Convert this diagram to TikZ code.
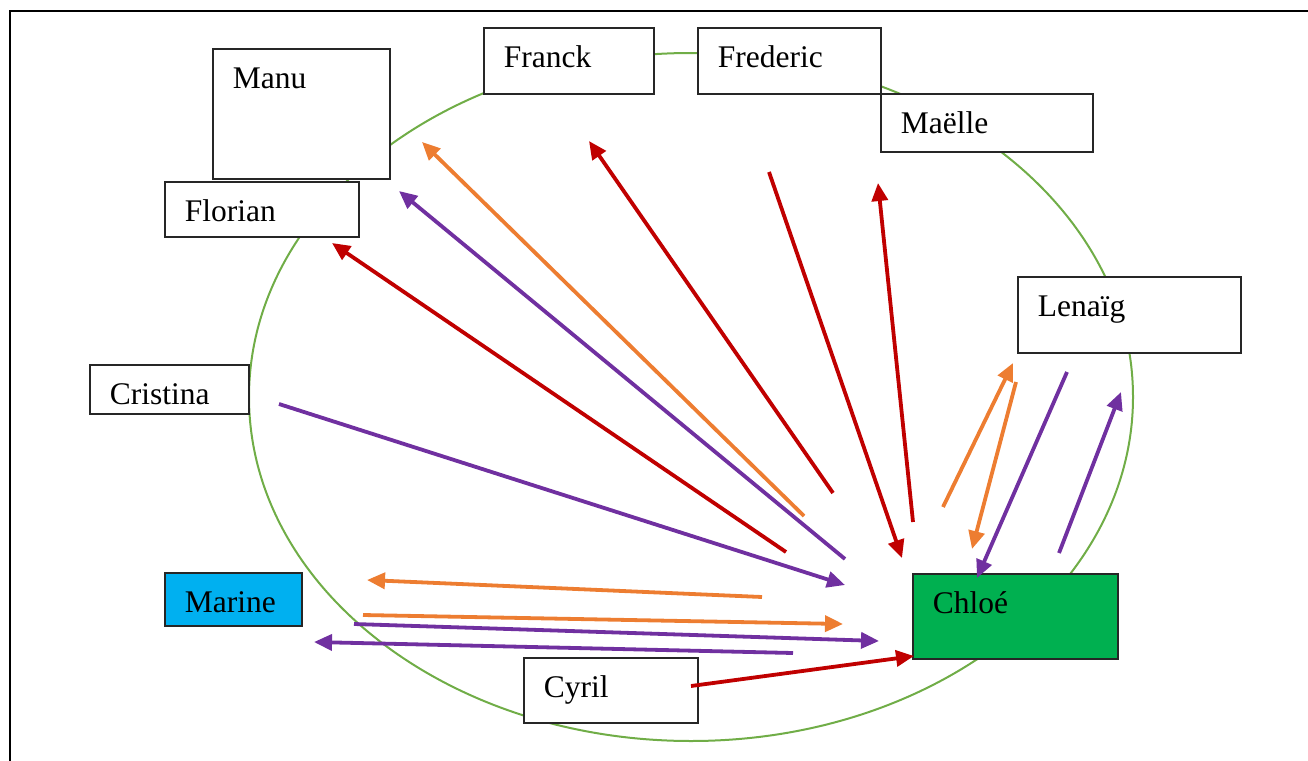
\documentclass[tikz,border=0pt]{standalone}
\usepackage{fontspec}
\setmainfont{Liberation Serif}
\usetikzlibrary{arrows.meta}
\definecolor{cred}{HTML}{C00000}
\definecolor{corange}{HTML}{ED7D31}
\definecolor{cpurple}{HTML}{7030A0}
\definecolor{cellipse}{HTML}{70AD47}
\definecolor{cblue}{HTML}{00B0F0}
\definecolor{cgreen}{HTML}{00B050}
\tikzset{
  pbox/.style={draw=black!85, line width=1.6pt, fill=white, anchor=north west,
    inner xsep=20pt, inner ysep=0pt, align=left, text height=40pt,
    font=\fontsize{31.5}{36}\selectfont},
  parrow/.style={line width=3.8pt, -{Triangle[length=18pt, width=16pt]}},
}
\begin{document}
\begin{tikzpicture}[x=1pt, y=-1pt]
\useasboundingbox (0,0) rectangle (1308,760);
% frame
\draw[line width=2.8pt] (10,762) -- (10,11) -- (1310,11);
% ellipse
\draw[cellipse, line width=2pt] (691,397) ellipse [x radius=442, y radius=344];
% boxes
\node[pbox, text width=137pt, text depth=90pt] (manu) at (212,48) {Manu};
\node[pbox, text width=154pt, text depth=15pt] (florian) at (164,181) {Florian};
\node[pbox, text width=130pt, text depth=26pt] (franck) at (483,27) {Franck};
\node[pbox, text width=143pt, text depth=26pt] (frederic) at (697,27) {Frederic};
\node[pbox, text width=172pt, text depth=18pt] (maelle) at (880,93) {Maëlle};
\node[pbox, text width=183pt, text depth=36pt] (lenaig) at (1017,276) {Lenaïg};
\node[pbox, text width=119pt, text depth=9pt] (cristina) at (89,364) {Cristina};
\node[pbox, fill=cblue, text width=97pt, text depth=13pt] (marine) at (164,572) {Marine};
\node[pbox, fill=cgreen, text width=165pt, text depth=45pt] (chloe) at (912,573) {Chloé};
\node[pbox, text width=134pt, text depth=25pt] (cyril) at (523,657) {Cyril};
% arrow end points
\coordinate (a1s) at (279,404);  \coordinate (a1e) at (845,585);
\coordinate (a2s) at (786,552);  \coordinate (a2e) at (332,243);
\coordinate (a3s) at (845,559);  \coordinate (a3e) at (399,191);
\coordinate (a4s) at (804,516);  \coordinate (a4e) at (422,142);
\coordinate (a5s) at (833,493);  \coordinate (a5e) at (589,141);
\coordinate (a6s) at (769,172);  \coordinate (a6e) at (902,558);
\coordinate (a7s) at (913,522);  \coordinate (a7e) at (878,183);
\coordinate (a8s) at (943,507);  \coordinate (a8e) at (1013,363);
\coordinate (a9s) at (1016,382); \coordinate (a9e) at (972,549);
\coordinate (a10s) at (1067,372); \coordinate (a10e) at (977,578);
\coordinate (a11s) at (1059,553); \coordinate (a11e) at (1121,392);
\coordinate (a12s) at (762,597); \coordinate (a12e) at (367,580);
\coordinate (a13s) at (363,615); \coordinate (a13e) at (843,624);
\coordinate (a14s) at (354,624); \coordinate (a14e) at (879,641);
\coordinate (a15s) at (793,653); \coordinate (a15e) at (314,642);
\coordinate (a16s) at (691,686); \coordinate (a16e) at (914,656);
% arrows
\draw[parrow, cpurple] (a1s) -- (a1e);
\draw[parrow, cred] (a2s) -- (a2e);
\draw[parrow, cpurple] (a3s) -- (a3e);
\draw[parrow, corange] (a4s) -- (a4e);
\draw[parrow, cred] (a5s) -- (a5e);
\draw[parrow, cred] (a6s) -- (a6e);
\draw[parrow, cred] (a7s) -- (a7e);
\draw[parrow, corange] (a8s) -- (a8e);
\draw[parrow, corange] (a9s) -- (a9e);
\draw[parrow, cpurple] (a10s) -- (a10e);
\draw[parrow, cpurple] (a11s) -- (a11e);
\draw[parrow, corange] (a12s) -- (a12e);
\draw[parrow, corange] (a13s) -- (a13e);
\draw[parrow, cpurple] (a14s) -- (a14e);
\draw[parrow, cpurple] (a15s) -- (a15e);
\draw[parrow, cred] (a16s) -- (a16e);
\end{tikzpicture}
\end{document}
